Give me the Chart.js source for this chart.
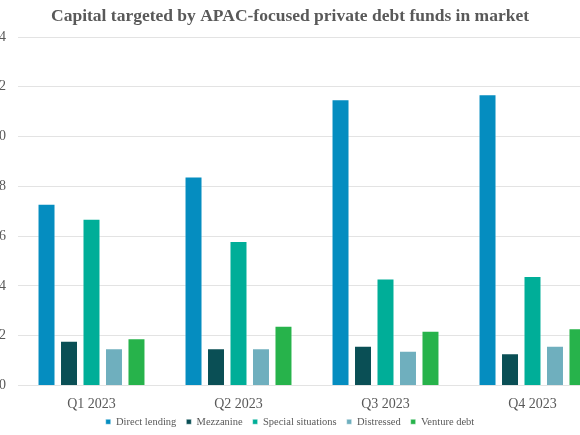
<!DOCTYPE html>
<html>
<head>
<meta charset="utf-8">
<script src="https://cdn.jsdelivr.net/npm/chart.js@4/dist/chart.umd.min.js"></script>
<style>
html,body{margin:0;padding:0;background:#fff;overflow:hidden;width:580px;height:435px;}
#wrap{position:absolute;left:-26px;top:0;width:646px;height:435px;}
</style>
</head>
<body>
<div id="wrap"><canvas id="c" width="646" height="435"></canvas></div>
<script>
const categories = ['Q1 2023', 'Q2 2023', 'Q3 2023', 'Q4 2023'];
const seriesNames = ['Direct lending', 'Mezzanine', 'Special situations', 'Distressed', 'Venture debt'];
const directLending = [7.3, 8.4, 11.5, 11.7];
const mezzanine = [1.8, 1.5, 1.6, 1.3];
const specialSituations = [6.7, 5.8, 4.3, 4.4];
const distressed = [1.5, 1.5, 1.4, 1.6];
const ventureDebt = [1.9, 2.4, 2.2, 2.3];
const yTicks = [0, 2, 4, 6, 8, 10, 12, 14];

const colors = ['#058dc0', '#0a4f55', '#00ae98', '#6fafbe', '#27b34b'];
const seriesValues = [directLending, mezzanine, specialSituations, distressed, ventureDebt];
const serif = "'Liberation Serif', 'DejaVu Serif', serif";

const legendShift = {
  id: 'legendShift',
  beforeDraw(chart) {
    const lg = chart.legend;
    if (lg && !lg._shifted) {
      const orig = lg.draw;
      lg.draw = function () {
        const c = this.ctx;
        c.save();
        c.translate(0, -9);
        orig.apply(this, arguments);
        c.restore();
      };
      lg._shifted = true;
    }
  }
};

new Chart(document.getElementById('c'), {
  type: 'bar',
  plugins: [legendShift],
  data: {
    labels: categories,
    datasets: seriesNames.map((n, i) => ({
      label: n,
      data: seriesValues[i],
      backgroundColor: colors[i],
      borderColor: 'rgba(255,255,255,0.45)',
      borderWidth: 1,
      categoryPercentage: 0.765,
      barPercentage: 0.8
    }))
  },
  options: {
    responsive: false,
    animation: false,
    layout: { padding: { left: 0, right: 14, top: 6, bottom: -11 } },
    plugins: {
      title: {
        display: true,
        text: 'Capital targeted by APAC-focused private debt funds in market',
        color: '#595959',
        font: { family: serif, size: 17.5, weight: 'bold' },
        padding: { top: 0, bottom: 10 }
      },
      legend: {
        position: 'bottom',
        labels: {
          color: '#595959',
          font: { family: serif, size: 10.5 },
          boxWidth: 5,
          boxHeight: 5,
          padding: 10
        }
      },
      tooltip: { enabled: false }
    },
    scales: {
      x: {
        grid: { display: false },
        border: { display: false },
        ticks: { color: '#595959', font: { family: serif, size: 14 }, padding: 2.6 }
      },
      y: {
        min: 0,
        max: 14,
        afterBuildTicks: s => { s.ticks = yTicks.map(v => ({ value: v })); },
        afterFit: s => { s.width = 44; },
        grid: { color: '#e3e3e3', drawTicks: false, lineWidth: 1 },
        border: { display: false },
        ticks: { color: '#595959', font: { family: serif, size: 14 }, padding: 12 }
      }
    }
  }
});
</script>
</body>
</html>
